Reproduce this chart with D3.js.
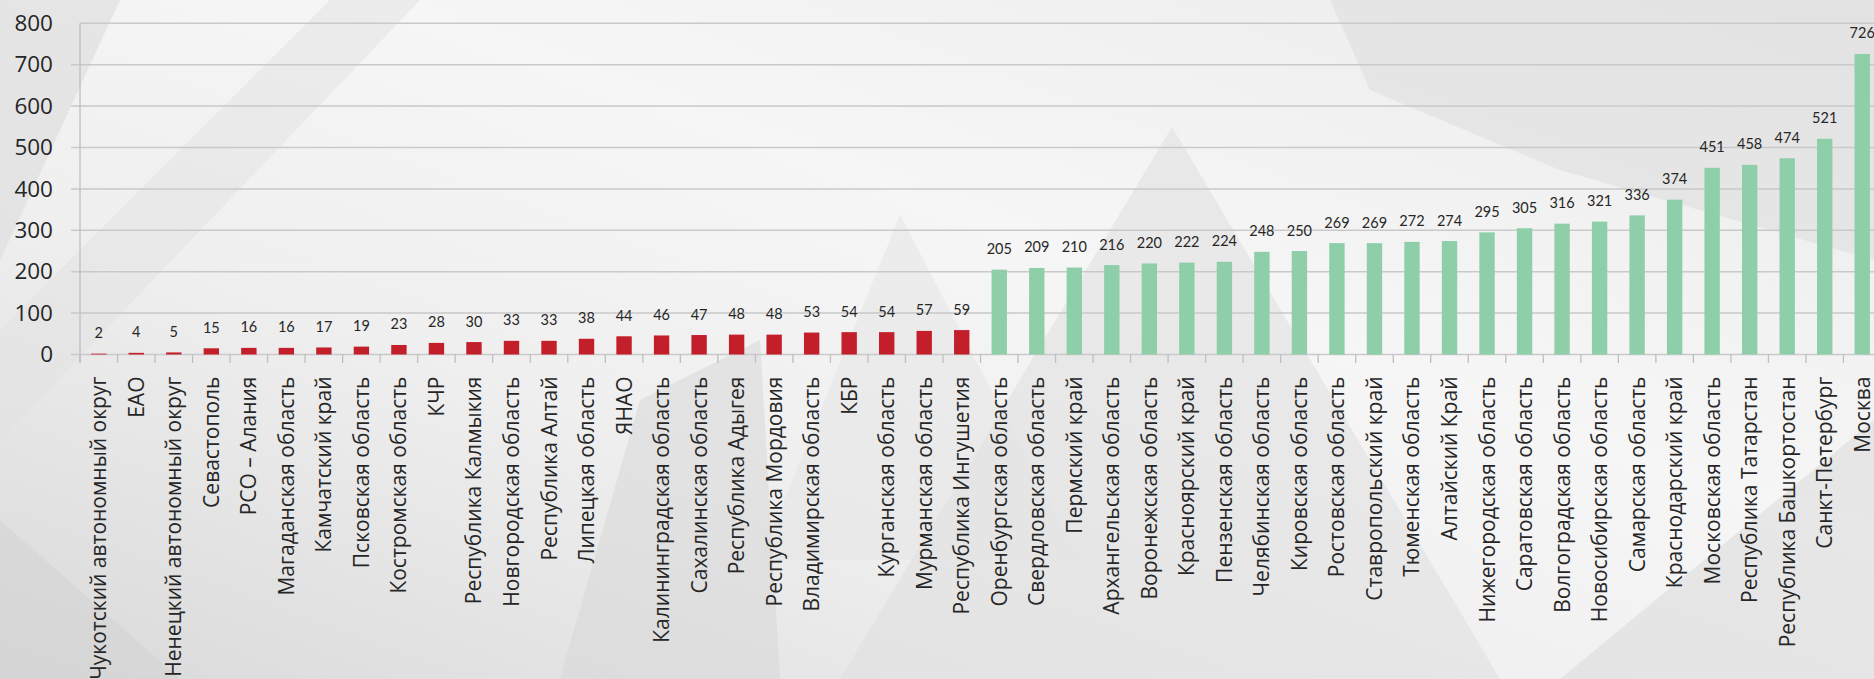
<!DOCTYPE html>
<html><head><meta charset="utf-8">
<script src="https://cdn.jsdelivr.net/npm/d3@7"></script>
<style>html,body{margin:0;padding:0;overflow:hidden;background:#f0f0f0}</style>
</head><body><svg id="c" width="1874" height="679"></svg>
<script>
const categories = ["Чукотский автономный округ","ЕАО","Ненецкий автономный округ","Севастополь","РСО – Алания","Магаданская область","Камчатский край","Псковская область","Костромская область","КЧР","Республика Калмыкия","Новгородская область","Республика Алтай","Липецкая область","ЯНАО","Калининградская область","Сахалинская область","Республика Адыгея","Республика Мордовия","Владимирская область","КБР","Курганская область","Мурманская область","Республика Ингушетия","Оренбургская область","Свердловская область","Пермский край","Архангельская область","Воронежская область","Красноярский край","Пензенская область","Челябинская область","Кировская область","Ростовская область","Ставропольский край","Тюменская область","Алтайский Край","Нижегородская область","Саратовская область","Волгоградская область","Новосибирская область","Самарская область","Краснодарский край","Московская область","Республика Татарстан","Республика Башкортостан","Санкт-Петербург","Москва"];
const lowValues = [2,4,5,15,16,16,17,19,23,28,30,33,33,38,44,46,47,48,48,53,54,54,57,59];
const highValues = [205,209,210,216,220,222,224,248,250,269,269,272,274,295,305,316,321,336,374,451,458,474,521,726];
const yTicks = [0,100,200,300,400,500,600,700,800];

const values = lowValues.concat(highValues);
const groups = lowValues.map(()=>"low").concat(highValues.map(()=>"high"));
const data = categories.map((c,i)=>({c, v:values[i], g:groups[i]}));

const svg = d3.select("#c");
const W = 1874, H = 679;

// background
const defs = svg.append("defs");
const lg = defs.append("linearGradient").attr("id","bg").attr("x1","0").attr("y1","1").attr("x2","1").attr("y2","0");
lg.append("stop").attr("offset","0").attr("stop-color","#d9d9d9");
lg.append("stop").attr("offset","0.35").attr("stop-color","#efefef");
lg.append("stop").attr("offset","0.6").attr("stop-color","#f6f6f6");
lg.append("stop").attr("offset","1").attr("stop-color","#ebebeb");
svg.append("rect").attr("width",W).attr("height",H).attr("fill","url(#bg)");
const deco = svg.append("g");
deco.append("polygon").attr("points","0,0 120,0 0,260").attr("fill","#dcdcdc").attr("opacity",0.6);
deco.append("polygon").attr("points","0,330 330,0 420,0 0,440").attr("fill","#e2e2e2").attr("opacity",0.5);
deco.append("polygon").attr("points","1172,127 1500,679 840,679").attr("fill","#dedede").attr("opacity",0.55);
deco.append("polygon").attr("points","900,215 1080,560 760,560").attr("fill","#e4e4e4").attr("opacity",0.5);
deco.append("polygon").attr("points","1330,0 1874,0 1874,260 1560,170 1370,90").attr("fill","#dddddd").attr("opacity",0.55);
deco.append("polygon").attr("points","560,679 640,400 760,340 780,679").attr("fill","#d6d6d6").attr("opacity",0.5);
deco.append("polygon").attr("points","1560,679 1874,420 1874,679").attr("fill","#d8d8d8").attr("opacity",0.5);
deco.append("polygon").attr("points","0,520 180,679 0,679").attr("fill","#d2d2d2").attr("opacity",0.5);

const x0 = 80, plotW = 1801;
const x = d3.scaleBand().domain(categories).range([x0, x0+plotW]).paddingInner(0.59).paddingOuter(0.295);
const y = d3.scaleLinear().domain([0,800]).range([354.5, 23.3]);

// gridlines
svg.append("g").selectAll("line").data(yTicks).join("line")
  .attr("x1", d => d===800 ? x0 : x0-9).attr("x2", W)
  .attr("y1", d=>y(d)).attr("y2", d=>y(d))
  .attr("stroke", "#c9c9c9").attr("stroke-width", 1.5);

// y axis
const yAxis = d3.axisLeft(y).tickValues(yTicks).tickSize(0).tickPadding(27);
const ya = svg.append("g").attr("transform",`translate(${x0},0)`).call(yAxis);
ya.select(".domain").remove();
ya.selectAll("text").attr("font-family","Open Sans").attr("font-size",22.5).attr("fill","#262626");
svg.append("line").attr("x1",x0).attr("x2",x0).attr("y1",y(800)).attr("y2",363).attr("stroke","#bfbfbf").attr("stroke-width",1.3);

// category ticks
const step = x.step();
svg.append("g").selectAll("line").data(d3.range(categories.length+1)).join("line")
  .attr("x1", i => x0 + i*step).attr("x2", i => x0 + i*step)
  .attr("y1", y(0)).attr("y2", 363).attr("stroke","#bfbfbf").attr("stroke-width",1.3);

// bars
svg.append("g").selectAll("rect").data(data).join("rect")
  .attr("x", d=>x(d.c)).attr("width", x.bandwidth())
  .attr("y", d=>y(d.v)).attr("height", d=>y(0)-y(d.v))
  .attr("fill", d=> d.g==="low" ? "#c21f2b" : "#8ecfaa");

// data labels
svg.append("g").selectAll("text").data(data).join("text")
  .attr("x", d=>x(d.c)+x.bandwidth()/2).attr("y", d=>y(d.v)-15.5)
  .attr("text-anchor","middle").attr("font-family","Lato").attr("font-size",14.5)
  .attr("fill","#262626").text(d=>d.v);

// category labels
const xa = d3.axisBottom(x).tickSize(0).tickPadding(0);
const xg = svg.append("g").attr("transform",`translate(0,${y(0)})`).call(xa);
xg.select(".domain").remove();
xg.selectAll("text")
  .attr("font-family","Open Sans").attr("font-size",21).attr("fill","#262626")
  .attr("text-anchor","end").attr("dy",null).attr("y",0)
  .attr("transform","translate(7.5,22) rotate(-90)");
</script></body></html>
